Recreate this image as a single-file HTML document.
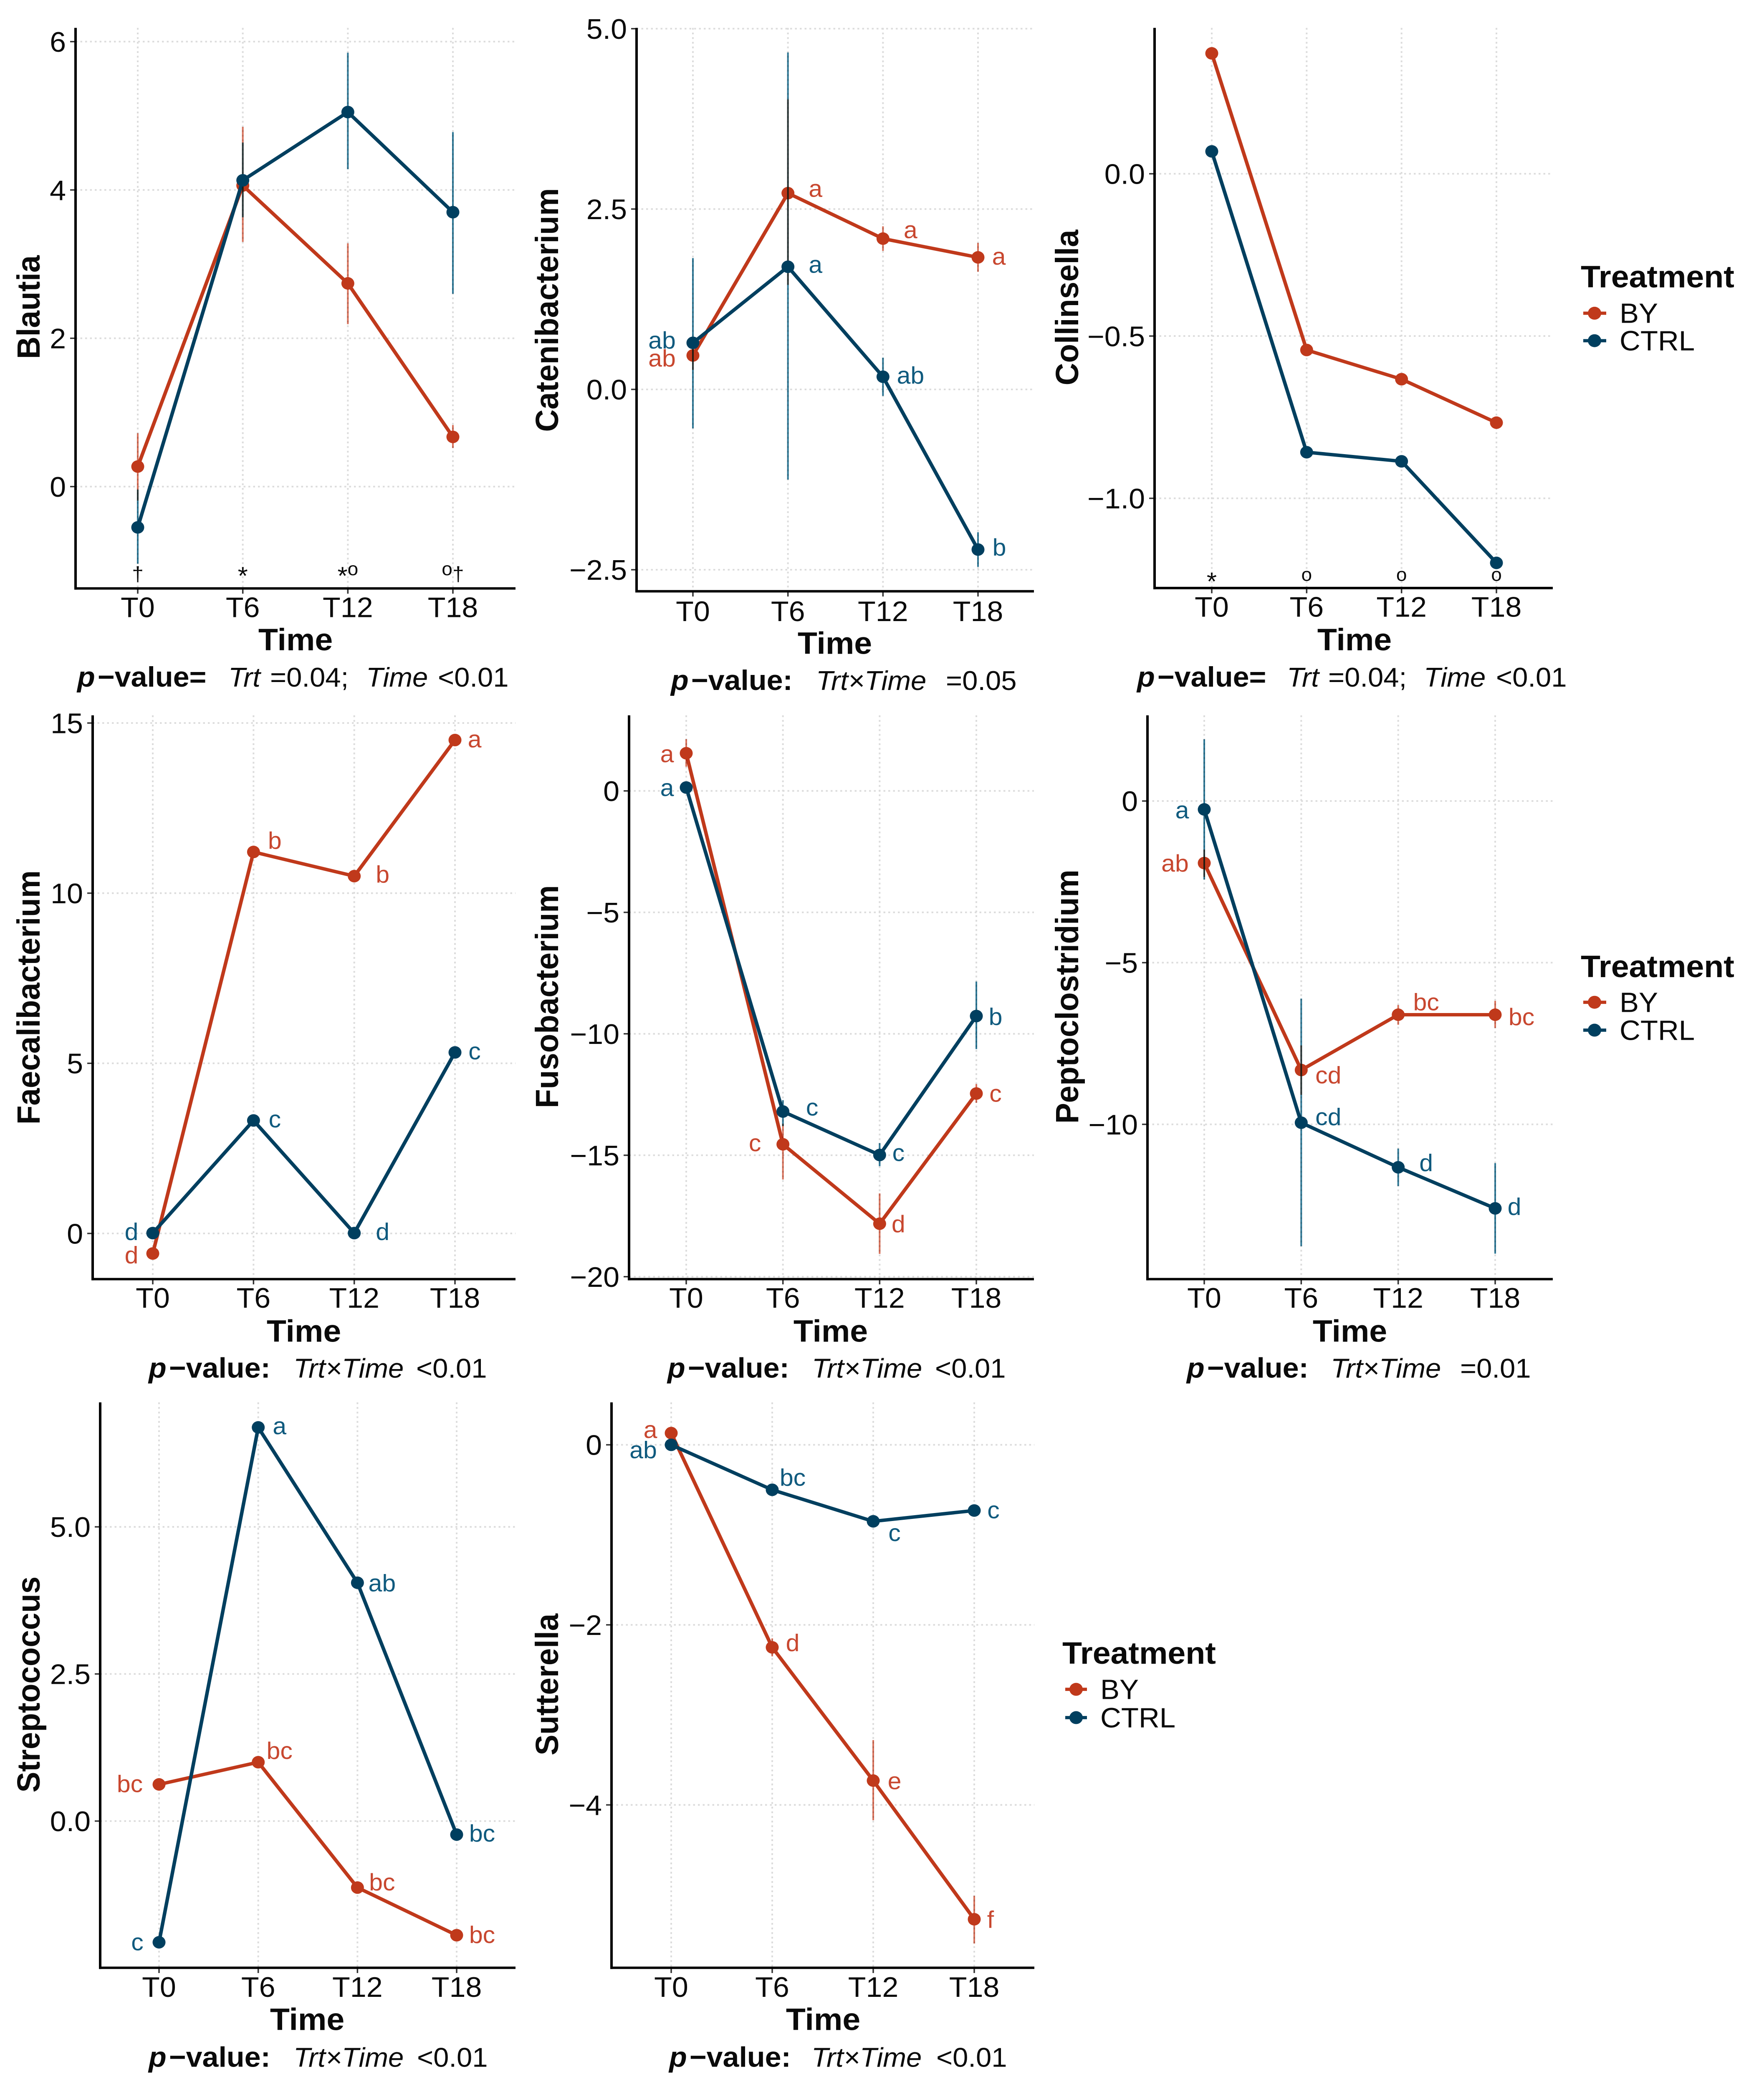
<!DOCTYPE html>
<html lang="en">
<head>
<meta charset="utf-8">
<title>Bacterial genera over time by treatment</title>
<style>
html,body{margin:0;padding:0;background:#fff;width:100vw;height:100vh;overflow:hidden}
svg{display:block;position:absolute;left:0;top:0;width:100vw;height:100vh;overflow:hidden}
text{font-family:"Liberation Sans",sans-serif;fill:#0a0a0a}
.at{font-size:77px;font-weight:700}
.pv{font-size:67px}
.pb{font-weight:700;font-style:italic;font-size:70px}
.pc{font-weight:700;font-size:70px}
.pi{font-style:italic}
.lt{font-size:77px;font-weight:700}
.ll{font-size:69px}
.tk{font-size:70px}
.let{font-size:59px}
.ann{font-size:46px}
.bar{mix-blend-mode:multiply}
</style>
</head>
<body>
<svg id="figure" xmlns="http://www.w3.org/2000/svg" viewBox="0 0 4226 5164" preserveAspectRatio="none">
<rect x="0" y="0" width="4226" height="5164" fill="#ffffff"/>
<g id="plots"></g>

<g>
<text class="at" text-anchor="middle" transform="translate(95 760) rotate(-90)">Blautia</text>
<text class="at" text-anchor="middle" x="708" y="1609">Time</text>
<text class="at" text-anchor="middle" transform="translate(1337 767) rotate(-90)">Catenibacterium</text>
<text class="at" text-anchor="middle" x="2000" y="1618">Time</text>
<text class="at" text-anchor="middle" transform="translate(2583 761) rotate(-90)">Collinsella</text>
<text class="at" text-anchor="middle" x="3245" y="1609">Time</text>
<text class="at" text-anchor="middle" transform="translate(95 2468) rotate(-90)">Faecalibacterium</text>
<text class="at" text-anchor="middle" x="728" y="3320">Time</text>
<text class="at" text-anchor="middle" transform="translate(1337 2466) rotate(-90)">Fusobacterium</text>
<text class="at" text-anchor="middle" x="1990" y="3320">Time</text>
<text class="at" text-anchor="middle" transform="translate(2583 2466) rotate(-90)">Peptoclostridium</text>
<text class="at" text-anchor="middle" x="3234" y="3320">Time</text>
<text class="at" text-anchor="middle" transform="translate(95 4168) rotate(-90)">Streptococcus</text>
<text class="at" text-anchor="middle" x="736" y="5023">Time</text>
<text class="at" text-anchor="middle" transform="translate(1337 4168) rotate(-90)">Sutterella</text>
<text class="at" text-anchor="middle" x="1972" y="5023">Time</text>
</g>

<g>
<text class="pv" y="1699"><tspan class="pb" x="185">p</tspan><tspan class="pc" dx="6">−value=</tspan><tspan class="pi" x="547">Trt</tspan><tspan x="647">=0.04;</tspan><tspan class="pi" x="877">Time</tspan><tspan x="1049">&lt;0.01</tspan></text>
<text class="pv" y="1707"><tspan class="pb" x="1607">p</tspan><tspan class="pc" dx="6">−value:</tspan><tspan class="pi" x="1955">Trt×Time</tspan><tspan x="2266">=0.05</tspan></text>
<text class="pv" y="1699"><tspan class="pb" x="2724">p</tspan><tspan class="pc" dx="6">−value=</tspan><tspan class="pi" x="3083">Trt</tspan><tspan x="3182">=0.04;</tspan><tspan class="pi" x="3411">Time</tspan><tspan x="3584">&lt;0.01</tspan></text>
<text class="pv" y="3409"><tspan class="pb" x="356">p</tspan><tspan class="pc" dx="6">−value:</tspan><tspan class="pi" x="703">Trt×Time</tspan><tspan x="997">&lt;0.01</tspan></text>
<text class="pv" y="3409"><tspan class="pb" x="1599">p</tspan><tspan class="pc" dx="6">−value:</tspan><tspan class="pi" x="1945">Trt×Time</tspan><tspan x="2240">&lt;0.01</tspan></text>
<text class="pv" y="3409"><tspan class="pb" x="2843">p</tspan><tspan class="pc" dx="6">−value:</tspan><tspan class="pi" x="3188">Trt×Time</tspan><tspan x="3498">=0.01</tspan></text>
<text class="pv" y="5114"><tspan class="pb" x="356">p</tspan><tspan class="pc" dx="6">−value:</tspan><tspan class="pi" x="703">Trt×Time</tspan><tspan x="999">&lt;0.01</tspan></text>
<text class="pv" y="5114"><tspan class="pb" x="1603">p</tspan><tspan class="pc" dx="6">−value:</tspan><tspan class="pi" x="1944">Trt×Time</tspan><tspan x="2243">&lt;0.01</tspan></text>
</g>

<g>
<text class="lt" x="3787" y="711">Treatment</text>
<line x1="3793" x2="3848" y1="775" y2="775" stroke="#c0391b" stroke-width="8"/>
<circle cx="3820" cy="775" r="16" fill="#c0391b"/>
<text class="ll" x="3880" y="799">BY</text>
<line x1="3793" x2="3848" y1="843" y2="843" stroke="#003f5f" stroke-width="8"/>
<circle cx="3820" cy="843" r="16" fill="#003f5f"/>
<text class="ll" x="3880" y="867">CTRL</text>
</g>
<g>
<text class="lt" x="3787" y="2418">Treatment</text>
<line x1="3793" x2="3848" y1="2480" y2="2480" stroke="#c0391b" stroke-width="8"/>
<circle cx="3820" cy="2480" r="16" fill="#c0391b"/>
<text class="ll" x="3880" y="2504">BY</text>
<line x1="3793" x2="3848" y1="2549" y2="2549" stroke="#003f5f" stroke-width="8"/>
<circle cx="3820" cy="2549" r="16" fill="#003f5f"/>
<text class="ll" x="3880" y="2573">CTRL</text>
</g>
<g>
<text class="lt" x="2545" y="4117">Treatment</text>
<line x1="2552" x2="2604" y1="4180" y2="4180" stroke="#c0391b" stroke-width="8"/>
<circle cx="2578" cy="4180" r="16" fill="#c0391b"/>
<text class="ll" x="2636" y="4204">BY</text>
<line x1="2552" x2="2604" y1="4250" y2="4250" stroke="#003f5f" stroke-width="8"/>
<circle cx="2578" cy="4250" r="16" fill="#003f5f"/>
<text class="ll" x="2636" y="4274">CTRL</text>
</g>
</svg>

<script>
// ---------- shared categories ----------
const timeLabels = ["T0", "T6", "T12", "T18"];

// ---------- Blautia ----------
const blautiaTicks = [0, 2, 4, 6];
const blautiaTickLabels = ["0", "2", "4", "6"];
const blautiaBy = [0.27, 4.06, 2.74, 0.67];
const blautiaByLow = [-0.19, 3.3, 2.19, 0.52];
const blautiaByHigh = [0.72, 4.85, 3.28, 0.83];
const blautiaCtrl = [-0.55, 4.13, 5.05, 3.7];
const blautiaCtrlLow = [-1.04, 3.63, 4.28, 2.6];
const blautiaCtrlHigh = [-0.04, 4.64, 5.85, 4.78];
const blautiaMarks = ["†", "*", "*o", "o†"];

// ---------- Catenibacterium ----------
const cateniTicks = [-2.5, 0, 2.5, 5];
const cateniTickLabels = ["−2.5", "0.0", "2.5", "5.0"];
const cateniBy = [0.47, 2.72, 2.09, 1.83];
const cateniByLow = [0.27, 1.45, 1.92, 1.63];
const cateniByHigh = [0.67, 4.02, 2.26, 2.03];
const cateniCtrl = [0.645, 1.7, 0.175, -2.22];
const cateniCtrlLow = [-0.54, -1.25, -0.09, -2.46];
const cateniCtrlHigh = [1.82, 4.67, 0.44, -1.98];
const cateniByLetters = ["ab", "a", "a", "a"];
const cateniCtrlLetters = ["ab", "a", "ab", "b"];

// ---------- Collinsella ----------
const collinTicks = [-1, -0.5, 0];
const collinTickLabels = ["−1.0", "−0.5", "0.0"];
const collinBy = [0.371, -0.543, -0.633, -0.767];
const collinCtrl = [0.069, -0.858, -0.886, -1.199];
const collinMarks = ["*", "o", "o", "o"];

// ---------- Faecalibacterium ----------
const faecaliTicks = [0, 5, 10, 15];
const faecaliTickLabels = ["0", "5", "10", "15"];
const faecaliBy = [-0.59, 11.21, 10.5, 14.5];
const faecaliCtrl = [0.01, 3.32, 0.01, 5.32];
const faecaliByLetters = ["d", "b", "b", "a"];
const faecaliCtrlLetters = ["d", "c", "d", "c"];

// ---------- Fusobacterium ----------
const fusoTicks = [-20, -15, -10, -5, 0];
const fusoTickLabels = ["−20", "−15", "−10", "−5", "0"];
const fusoBy = [1.55, -14.55, -17.82, -12.46];
const fusoByLow = [1.0, -16, -19.06, -12.84];
const fusoByHigh = [2.13, -13.7, -16.57, -12.07];
const fusoCtrl = [0.14, -13.2, -14.99, -9.27];
const fusoCtrlLow = [0.0, -13.8, -15.45, -10.63];
const fusoCtrlHigh = [0.28, -12.73, -14.5, -7.85];
const fusoByLetters = ["a", "c", "d", "c"];
const fusoCtrlLetters = ["a", "c", "c", "b"];

// ---------- Peptoclostridium ----------
const peptoTicks = [-10, -5, 0];
const peptoTickLabels = ["−10", "−5", "0"];
const peptoBy = [-1.92, -8.32, -6.61, -6.61];
const peptoByLow = [-2.35, -9.09, -6.92, -7.02];
const peptoByHigh = [-1.5, -7.56, -6.31, -6.18];
const peptoCtrl = [-0.26, -9.95, -11.33, -12.6];
const peptoCtrlLow = [-2.43, -13.77, -11.91, -14];
const peptoCtrlHigh = [1.91, -6.11, -10.75, -11.2];
const peptoByLetters = ["ab", "cd", "bc", "bc"];
const peptoCtrlLetters = ["a", "cd", "d", "d"];

// ---------- Streptococcus ----------
const streptoTicks = [0, 2.5, 5];
const streptoTickLabels = ["0.0", "2.5", "5.0"];
const streptoBy = [0.623, 1.0, -1.13, -1.94];
const streptoCtrl = [-2.06, 6.69, 4.05, -0.23];
const streptoByLetters = ["bc", "bc", "bc", "bc"];
const streptoCtrlLetters = ["c", "a", "ab", "bc"];

// ---------- Sutterella ----------
const sutterTicks = [-4, -2, 0];
const sutterTickLabels = ["−4", "−2", "0"];
const sutterBy = [0.13, -2.25, -3.73, -5.27];
const sutterByLow = [0.1, -2.35, -4.17, -5.54];
const sutterByHigh = [0.16, -2.15, -3.28, -5.01];
const sutterCtrl = [0, -0.5, -0.85, -0.73];
const sutterByLetters = ["a", "d", "e", "f"];
const sutterCtrlLetters = ["ab", "bc", "c", "c"];

// ---------- panel layout (frames and label nudges only, no data) ----------
const BY_COLOR = "#c0391b", CTRL_COLOR = "#003f5f";
const BY_BAR = "#d9725b", CTRL_BAR = "#2f7896";
const BY_TXT = "#c8472f", CTRL_TXT = "#0f5a7e";

const panels = [
  {name:"blautia", left:181, right:1235, top:69, bottom:1456, xFirst:330, xLast:1085, yA:[0,1204], yB:[6,103], tickY:1527,
   ticks:blautiaTicks, tickLabels:blautiaTickLabels,
   by:blautiaBy, byLow:blautiaByLow, byHigh:blautiaByHigh, ctrl:blautiaCtrl, ctrlLow:blautiaCtrlLow, ctrlHigh:blautiaCtrlHigh,
   marks:blautiaMarks, marksY:1423},
  {name:"catenibacterium", left:1525, right:2477, top:69, bottom:1463, xFirst:1660, xLast:2343, yA:[0,963.5], yB:[5,71], tickY:1537,
   ticks:cateniTicks, tickLabels:cateniTickLabels,
   by:cateniBy, byLow:cateniByLow, byHigh:cateniByHigh, ctrl:cateniCtrl, ctrlLow:cateniCtrlLow, ctrlHigh:cateniCtrlHigh,
   byLetters:cateniByLetters, ctrlLetters:cateniCtrlLetters,
   byNudge:[[-74,10],[66,-8],[66,-18],[50,1]], ctrlNudge:[[-74,-3],[66,-2],[66,0],[51,-2]]},
  {name:"collinsella", left:2766, right:3720, top:69, bottom:1455, xFirst:2903, xLast:3585, yA:[0,430], yB:[-1,1233], tickY:1526,
   ticks:collinTicks, tickLabels:collinTickLabels,
   by:collinBy, ctrl:collinCtrl, marks:collinMarks, marksY:1437},
  {name:"faecalibacterium", left:222, right:1235, top:1770, bottom:3165, xFirst:366, xLast:1090, yA:[0,3052], yB:[15,1789], tickY:3236,
   ticks:faecaliTicks, tickLabels:faecaliTickLabels,
   by:faecaliBy, ctrl:faecaliCtrl, byLetters:faecaliByLetters, ctrlLetters:faecaliCtrlLetters,
   byNudge:[[-51,7],[51,-25],[68,-1],[47,1]], ctrlNudge:[[-51,0],[51,0],[68,0],[47,0]]},
  {name:"fusobacterium", left:1507, right:2477, top:1770, bottom:3165, xFirst:1644, xLast:2339, yA:[0,1957], yB:[-20,3159], tickY:3236,
   ticks:fusoTicks, tickLabels:fusoTickLabels,
   by:fusoBy, byLow:fusoByLow, byHigh:fusoByHigh, ctrl:fusoCtrl, ctrlLow:fusoCtrlLow, ctrlHigh:fusoCtrlHigh,
   byLetters:fusoByLetters, ctrlLetters:fusoCtrlLetters,
   byNudge:[[-46,5],[-67,0],[45,4],[46,3]], ctrlNudge:[[-46,4],[70,-7],[45,-2],[46,5]]},
  {name:"peptoclostridium", left:2749, right:3720, top:1770, bottom:3165, xFirst:2885, xLast:3582, yA:[0,1982], yB:[-10,2782], tickY:3236,
   ticks:peptoTicks, tickLabels:peptoTickLabels,
   by:peptoBy, byLow:peptoByLow, byHigh:peptoByHigh, ctrl:peptoCtrl, ctrlLow:peptoCtrlLow, ctrlHigh:peptoCtrlHigh,
   byLetters:peptoByLetters, ctrlLetters:peptoCtrlLetters,
   byNudge:[[-70,4],[65,16],[67,-28],[63,9]], ctrlNudge:[[-53,5],[65,-11],[67,-8],[46,-1]]},
  {name:"streptococcus", left:240, right:1235, top:3470, bottom:4869, xFirst:381, xLast:1094, yA:[0,4506], yB:[5,3778], tickY:4941,
   ticks:streptoTicks, tickLabels:streptoTickLabels,
   by:streptoBy, ctrl:streptoCtrl, byLetters:streptoByLetters, ctrlLetters:streptoCtrlLetters,
   byNudge:[[-70,2],[51,-25],[59,-10],[61,2]], ctrlNudge:[[-52,3],[51,0],[59,4],[61,0]]},
  {name:"sutterella", left:1465, right:2478, top:3470, bottom:4869, xFirst:1608, xLast:2334, yA:[0,3575], yB:[-4,4466], tickY:4941,
   ticks:sutterTicks, tickLabels:sutterTickLabels,
   by:sutterBy, byLow:sutterByLow, byHigh:sutterByHigh, ctrl:sutterCtrl, byLetters:sutterByLetters, ctrlLetters:sutterCtrlLetters,
   byNudge:[[-50,-5],[49,-8],[51,4],[39,4]], ctrlNudge:[[-67,16],[49,-27],[51,32],[46,2]]}
];

// ---------- drawing ----------
const NS = "http://www.w3.org/2000/svg";
function mk(tag, attrs, parent) {
  const el = document.createElementNS(NS, tag);
  for (const k in attrs) el.setAttribute(k, attrs[k]);
  parent.appendChild(el);
  return el;
}
function xScale(p) {
  return i => p.xFirst + (p.xLast - p.xFirst) * i / (timeLabels.length - 1);
}
function yScale(p) {
  const k = (p.yB[1] - p.yA[1]) / (p.yB[0] - p.yA[0]);
  return v => p.yA[1] + (v - p.yA[0]) * k;
}
function drawSeries(g, p, values, low, high, color, barColor, txtColor, letters, nudge, key) {
  const x = xScale(p), y = yScale(p);
  const line = mk("polyline", {points: values.map((v, i) => x(i) + "," + y(v)).join(" "), fill: "none", stroke: color, "stroke-width": 8.5, "stroke-linejoin": "round"}, g);
  
  
  if (low && high) {
    values.forEach((v, i) => {
      const bar = mk("line", {x1: x(i), x2: x(i), y1: y(low[i]), y2: y(high[i]), stroke: barColor, "stroke-width": 4, class: "bar"}, g);
      
      
    });
  }
  values.forEach((v, i) => {
    const pt = mk("circle", {cx: x(i), cy: y(v), r: 15.5, fill: color}, g);
    
    
  });
  if (letters) {
    values.forEach((v, i) => {
      const t = mk("text", {x: x(i) + nudge[i][0], y: y(v) + nudge[i][1] + 17, "text-anchor": "middle", class: "let"}, g);
      t.style.fill = txtColor;
      t.textContent = letters[i];
      
      
    });
  }
}
function drawMark(g, p, text, cx, name) {
  const t = mk("text", {x: cx, y: p.marksY, "text-anchor": "middle", class: "ann"}, g);
  
  
  let shift = 0;
  text.split("").forEach(ch => {
    const isStar = ch === "*", isDagger = ch === "†";
    const target = isStar ? 23 : isDagger ? 14 : 0;
    const s = mk("tspan", {dy: target - shift}, t);
    shift = target;
    s.style.fontSize = (isStar ? 62 : isDagger ? 50 : 46) + "px";
    s.textContent = ch;
  });
}
const root = document.getElementById("plots");
panels.forEach(p => {
  const x = xScale(p), y = yScale(p);
  const g = mk("g", {}, root);
  
  

  p.ticks.forEach((v, i) => {
    const gl = mk("line", {x1: p.left, x2: p.right, y1: y(v), y2: y(v), stroke: "#dcdcdc", "stroke-width": 4, "stroke-dasharray": "4.5 7"}, g);
    
    
    const tm = mk("line", {x1: p.left - 13, x2: p.left, y1: y(v), y2: y(v), stroke: "#333", "stroke-width": 3.5}, g);
    
    
    const tl = mk("text", {x: p.left - 23, y: y(v) + 25, "text-anchor": "end", class: "tk"}, g);
    tl.textContent = p.tickLabels[i];
    
    
  });
  timeLabels.forEach((lab, i) => {
    const gl = mk("line", {x1: x(i), x2: x(i), y1: p.top, y2: p.bottom, stroke: "#dcdcdc", "stroke-width": 4, "stroke-dasharray": "4.5 7"}, g);
    
    
    const tm = mk("line", {x1: x(i), x2: x(i), y1: p.bottom, y2: p.bottom + 13, stroke: "#333", "stroke-width": 3.5}, g);
    
    
    const tl = mk("text", {x: x(i), y: p.tickY, "text-anchor": "middle", class: "tk"}, g);
    tl.textContent = lab;
    
    
  });

  const ax = mk("line", {x1: p.left, x2: p.left, y1: p.top, y2: p.bottom + 3, stroke: "#000", "stroke-width": 6}, g);
  
  
  const bx = mk("line", {x1: p.left - 3, x2: p.right, y1: p.bottom, y2: p.bottom, stroke: "#000", "stroke-width": 6}, g);
  
  

  drawSeries(g, p, p.by, p.byLow, p.byHigh, BY_COLOR, BY_BAR, BY_TXT, p.byLetters, p.byNudge, 'by');
  drawSeries(g, p, p.ctrl, p.ctrlLow, p.ctrlHigh, CTRL_COLOR, CTRL_BAR, CTRL_TXT, p.ctrlLetters, p.ctrlNudge, 'ctrl');

  if (p.marks) {
    p.marks.forEach((m, i) => {
      drawMark(g, p, m, x(i), 'significance-mark-' + timeLabels[i].toLowerCase());
    });
  }
});
</script>
</body>
</html>
